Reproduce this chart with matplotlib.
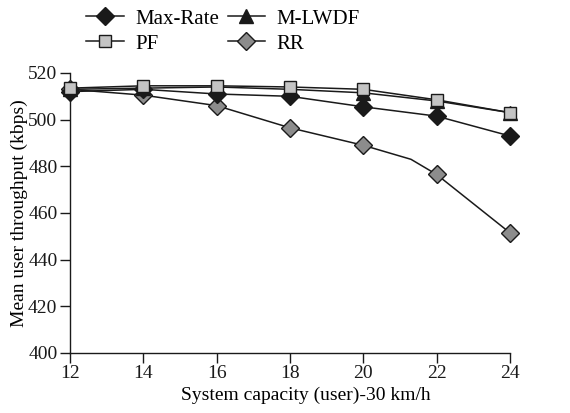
import matplotlib
matplotlib.use("Agg")
import matplotlib.pyplot as plt
import matplotlib.lines as mlines

users = [12, 14, 16, 18, 20, 22, 24]
max_rate = [512, 513, 511, 510, 505.5, 501.5, 493]
m_lwdf = [513, 513.5, 514, 513, 511.5, 508, 503]
pf = [513.5, 514.5, 514.5, 514, 513, 508.5, 503]
rr = [513, 510.5, 506, 496.5, 489, 476.5, 451.5]
# RR curve path (line bends between 20 and 22)
rr_line_x = [12, 14, 16, 18, 20, 21.3, 22, 24]
rr_line_y = [513, 510.5, 506, 496.5, 489, 483, 476.5, 451.5]

plt.rcParams['font.family'] = ['Liberation Serif', 'DejaVu Serif']
fig = plt.figure(figsize=(5.7, 4.13), dpi=100)
ax = fig.add_axes([0.1228, 0.1453, 0.7719, 0.678])

lw = 1.1
ink = '#1a1a1a'
ax.plot(rr_line_x, rr_line_y, color=ink, lw=lw, zorder=2)
ax.plot(users, rr, ls='None', marker='D', ms=9,
        mfc='#8c8c8c', mec=ink, mew=1.0, zorder=3, clip_on=False)
h_mr, = ax.plot(users, max_rate, color=ink, lw=lw, marker='D', ms=9,
                mfc=ink, mec=ink, label='Max-Rate', zorder=4, clip_on=False)
h_ml, = ax.plot(users, m_lwdf, color=ink, lw=lw, marker='^', ms=10,
                mfc=ink, mec=ink, label='M-LWDF', zorder=5, clip_on=False)
h_pf, = ax.plot(users, pf, color=ink, lw=lw, marker='s', ms=9,
                mfc='#c4c4c4', mec=ink, mew=1.0, label='PF', zorder=6, clip_on=False)

ax.set_xlim(12, 24)
ax.set_ylim(400, 520)
ax.set_xticks(users)
ax.set_yticks(range(400, 521, 20))
ax.spines['top'].set_visible(False)
ax.spines['right'].set_visible(False)
for s in ('left', 'bottom'):
    ax.spines[s].set_linewidth(1.0)
    ax.spines[s].set_color(ink)
ax.tick_params(direction='out', length=7, width=1.0, labelsize=14, colors=ink, pad=2)
ax.set_xlabel('System capacity (user)-30 km/h', fontsize=14)
ax.xaxis.set_label_coords(0.536, -0.122)
ax.set_ylabel('Mean user throughput (kbps)', fontsize=14, labelpad=0)

leg_rr = mlines.Line2D([], [], color=ink, lw=lw, marker='D', ms=9,
                       mfc='#8c8c8c', mec=ink, label='RR')
fig.legend(handles=[h_mr, h_pf, h_ml, leg_rr], loc='upper left',
           bbox_to_anchor=(0.137, 0.998), ncol=2, frameon=False, fontsize=15,
           handlelength=1.8, handletextpad=0.55, columnspacing=0.4,
           labelspacing=0.25, borderaxespad=0)

fig.savefig('out.png', dpi=100)
